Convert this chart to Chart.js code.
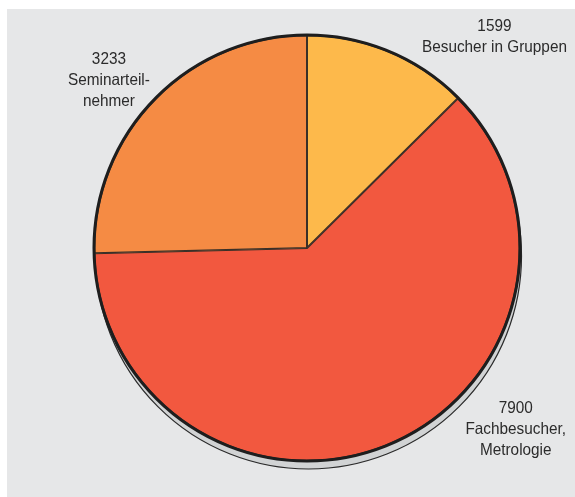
<!DOCTYPE html>
<html>
<head>
<meta charset="utf-8">
<script src="https://cdn.jsdelivr.net/npm/chart.js@4/dist/chart.umd.min.js"></script>
<style>
  html, body { margin: 0; padding: 0; background: #ffffff; }
  #wrap { position: absolute; left: 7px; top: 9px; width: 568px; height: 488px; background: #e6e7e8; }
  canvas { display: block; }
</style>
</head>
<body>
<div id="wrap"><canvas id="c" width="568" height="488"></canvas></div>
<script>
const values = [1599, 7900, 3233];
const labelLines = [
  ["1599", "Besucher in Gruppen"],
  ["7900", "Fachbesucher,", "Metrologie"],
  ["3233", "Seminarteil-", "nehmer"]
];
const colors = ["#fdb94b", "#f2583f", "#f58b44"];

// label anchors expressed relative to pie centre in units of radius (first line centre)
const labelAnchors = [
  { dx: 0.88, dy: -1.04 },
  { dx: 0.98, dy: 0.755 },
  { dx: -0.93, dy: -0.885 }
];

const decor = {
  id: 'decor',
  beforeDatasetsDraw(chart) {
    const arc = chart.getDatasetMeta(0).data[0];
    if (!arc) return;
    const { x, y, outerRadius } = arc.getProps(['x', 'y', 'outerRadius'], true);
    const ctx = chart.ctx;
    ctx.save();
    ctx.beginPath();
    ctx.arc(x + 1.5, y + 8, outerRadius, 0, Math.PI * 2);
    ctx.fillStyle = '#d1d3d4';
    ctx.fill();
    ctx.lineWidth = 1.2;
    ctx.strokeStyle = '#2a2a2a';
    ctx.stroke();
    ctx.restore();
  },
  afterDatasetsDraw(chart) {
    const arc = chart.getDatasetMeta(0).data[0];
    if (!arc) return;
    const { x, y, outerRadius } = arc.getProps(['x', 'y', 'outerRadius'], true);
    const ctx = chart.ctx;
    ctx.save();
    ctx.beginPath();
    ctx.arc(x, y, outerRadius, 0, Math.PI * 2);
    ctx.lineWidth = 3;
    ctx.strokeStyle = '#1e1e1e';
    ctx.stroke();
    ctx.restore();

    ctx.save();
    ctx.fillStyle = '#2b2b2b';
    ctx.font = '16.5px "Liberation Sans", Arial, sans-serif';
    ctx.textAlign = 'center';
    ctx.textBaseline = 'middle';
    labelLines.forEach((lines, i) => {
      const a = labelAnchors[i];
      const lx = x + a.dx * outerRadius;
      const ly = y + a.dy * outerRadius;
      lines.forEach((t, j) => {
        ctx.save();
        ctx.translate(lx, ly + j * 21);
        ctx.scale(0.93, 1);
        ctx.fillText(t, 0, 0);
        ctx.restore();
      });
    });
    ctx.restore();
  }
};

new Chart(document.getElementById('c'), {
  type: 'pie',
  data: {
    labels: labelLines.map(l => l.slice(1).join(' ')),
    datasets: [{
      data: values,
      backgroundColor: colors,
      borderColor: '#3a3028',
      borderWidth: 1,
      borderAlign: 'inner'
    }]
  },
  options: {
    responsive: false,
    animation: false,
    radius: 213,
    layout: { padding: { left: 32, right: 0, top: 0, bottom: 10 } },
    plugins: { legend: { display: false }, tooltip: { enabled: false } }
  },
  plugins: [decor]
});
</script>
</body>
</html>
